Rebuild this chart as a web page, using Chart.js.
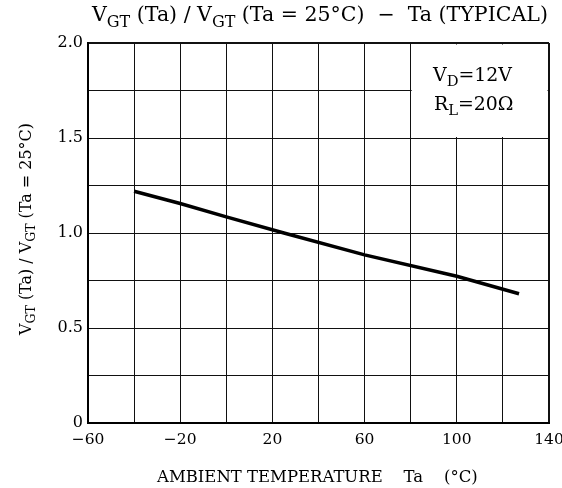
<!DOCTYPE html>
<html>
<head>
<meta charset="utf-8">
<script src="https://cdn.jsdelivr.net/npm/chart.js@4.4.1/dist/chart.umd.min.js"></script>
<style>
  html, body { margin: 0; padding: 0; background: #fff; }
  #wrap { width: 562px; height: 488px; }
</style>
</head>
<body>
<div id="wrap"><canvas id="chart"></canvas></div>
<script>
// ===== DATA =====
const tempC = [-40, -20, 0, 25, 60, 100, 127];
const ratio = [1.22, 1.155, 1.085, 1.0, 0.885, 0.772, 0.68];

const xMin = -60, xMax = 140, xStep = 20, xLabelEvery = 40;
const yMin = 0, yMax = 2.0, yStep = 0.25, yLabelEvery = 0.5;

const titleParts = [["V"], ["GT", 1], [" (Ta) / V"], ["GT", 1], [" (Ta = 25°C)  −  Ta (TYPICAL)"]];
const yTitleParts = [["V"], ["GT", 1], [" (Ta) / V"], ["GT", 1], [" (Ta = 25°C)"]];
const xTitle = "AMBIENT TEMPERATURE    Ta    (°C)";
const condLines = [
    [["V"], ["D", 1], ["=12V"]],
    [["R"], ["L", 1], ["=20Ω"]]
];
// box with the conditions: x 80..140, y 1.5..2.0
const condBox = { x0: 80, x1: 140, y0: 1.5, y1: 2.0 };

const FONT = "'DejaVu Serif', 'Liberation Serif', serif";
Chart.defaults.font.family = FONT;
Chart.defaults.color = "#000";

// ===== RICH TEXT (subscripts) =====
function partsWidth(ctx, parts, size){
    let w = 0;
    parts.forEach(p=>{
        ctx.font = (p[1] ? size * 0.78 : size) + "px " + FONT;
        w += ctx.measureText(p[0]).width;
    });
    return w;
}

function drawParts(ctx, parts, x, y, size){
    let cx = x;
    parts.forEach(p=>{
        const s = p[1] ? size * 0.78 : size;
        ctx.font = s + "px " + FONT;
        ctx.fillText(p[0], cx, p[1] ? y + size * 0.28 : y);
        cx += ctx.measureText(p[0]).width;
    });
}

// size that makes the text as wide as the reference
function fitSize(ctx, parts, width){
    return 20 * width / partsWidth(ctx, parts, 20);
}

const textPlugin = {
    id: "texts",
    beforeDatasetsDraw(chart){
        // clear the grid inside the condition box
        const ctx = chart.ctx;
        const xs = chart.scales.x, ys = chart.scales.y;
        const l = xs.getPixelForValue(condBox.x0) + 1;
        const r = xs.getPixelForValue(condBox.x1) - 1.5;
        const t = ys.getPixelForValue(condBox.y1) + 1.5;
        const b = ys.getPixelForValue(condBox.y0) - 1;
        ctx.save();
        ctx.fillStyle = "#fff";
        ctx.fillRect(l, t, r - l, b - t);
        ctx.restore();
    },
    afterDraw(chart){
        const ctx = chart.ctx;
        const area = chart.chartArea;
        ctx.save();
        ctx.fillStyle = "#000";
        ctx.textBaseline = "alphabetic";
        ctx.textAlign = "left";

        // title
        let s = fitSize(ctx, titleParts, 456);
        drawParts(ctx, titleParts, area.left + 4, 21, s);

        // x axis title
        ctx.font = "20px " + FONT;
        s = 20 * 321 / ctx.measureText(xTitle).width;
        ctx.font = s + "px " + FONT;
        ctx.fillText(xTitle, 157, 482);

        // y axis title (rotated)
        s = fitSize(ctx, yTitleParts, 212);
        const w = partsWidth(ctx, yTitleParts, s);
        ctx.save();
        ctx.translate(31, 229);
        ctx.rotate(-Math.PI / 2);
        drawParts(ctx, yTitleParts, -w / 2, 0, s);
        ctx.restore();

        // conditions
        s = fitSize(ctx, condLines[0], 79);
        drawParts(ctx, condLines[0], 433, 81, s);
        drawParts(ctx, condLines[1], 434, 110, s);

        ctx.restore();
    }
};

// ===== CHART =====
new Chart(document.getElementById("chart"), {
    type: "scatter",
    data: {
        datasets: [{
            data: tempC.map((t, i)=>({ x: t, y: ratio[i] })),
            showLine: true,
            borderColor: "#000",
            borderWidth: 3.5,
            pointRadius: 0,
            tension: 0
        }]
    },
    options: {
        responsive: true,
        maintainAspectRatio: false,
        animation: false,
        layout: { padding: { top: 43, right: 13, left: 0, bottom: 0 } },
        plugins: {
            legend: { display: false },
            tooltip: { enabled: false }
        },
        scales: {
            x: {
                type: "linear",
                min: xMin, max: xMax,
                afterBuildTicks(scale){
                    scale.ticks = [];
                    for(let v = xMin; v <= xMax; v += xStep) scale.ticks.push({ value: v });
                },
                afterFit(scale){
                    scale.height = 65;
                    scale.paddingLeft = 0;
                    scale.paddingRight = 0;
                },
                ticks: {
                    font: { size: 15.5 },
                    padding: 8,
                    maxRotation: 0,
                    autoSkip: false,
                    callback(v){
                        if((v - xMin) % xLabelEvery !== 0) return "";
                        return v < 0 ? "−" + Math.abs(v) : String(v);
                    }
                },
                grid: {
                    color: "#111",
                    lineWidth: c=> c.tick && c.tick.value === xMax ? 2 : 1,
                    drawTicks: false
                },
                border: { color: "#000", width: 2 }
            },
            y: {
                type: "linear",
                min: yMin, max: yMax,
                afterBuildTicks(scale){
                    scale.ticks = [];
                    for(let i = 0; i <= Math.round((yMax - yMin) / yStep); i++) scale.ticks.push({ value: yMin + i * yStep });
                },
                afterFit(scale){
                    scale.width = 88;
                    scale.paddingTop = 0;
                    scale.paddingBottom = 0;
                },
                ticks: {
                    font: { size: 16 },
                    padding: 5,
                    autoSkip: false,
                    callback(v){
                        const k = Math.round(v / yStep);
                        if(k % Math.round(yLabelEvery / yStep) !== 0) return "";
                        return v === 0 ? "0" : v.toFixed(1);
                    }
                },
                grid: {
                    color: "#111",
                    lineWidth: c=> c.tick && Math.abs(c.tick.value - yMax) < 1e-9 ? 2 : 1,
                    drawTicks: false
                },
                border: { color: "#000", width: 2 }
            }
        }
    },
    plugins: [textPlugin]
});
</script>
</body>
</html>
